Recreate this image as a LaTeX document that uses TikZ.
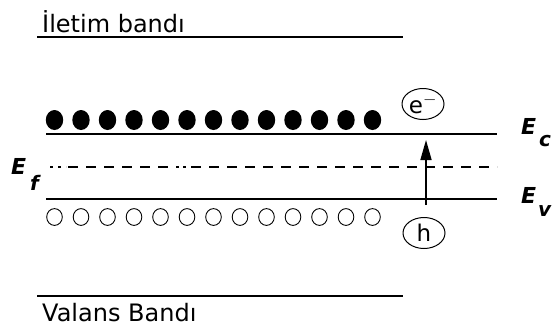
\documentclass[tikz,border=0pt]{standalone}
\usepackage{fontspec}
\setmainfont{DejaVu Sans}
\usetikzlibrary{arrows.meta,shapes.geometric}
\begin{document}
\begin{tikzpicture}[x=1pt,y=-1pt,
  level/.style={line width=1.6pt},
  fermi/.style={line width=1.4pt},
  bandtext/.style={anchor=base west,inner sep=0pt,font=\fontsize{24}{24}\selectfont},
  elabel/.style={anchor=base west,inner sep=0pt,font=\fontsize{22}{22}\selectfont\bfseries\itshape},
  esub/.style={anchor=base west,inner sep=0pt,font=\fontsize{20}{20}\selectfont\bfseries\itshape},
  electron/.style={fill=black,draw=none},
  hole/.style={draw=black,line width=0.9pt,fill=white},
  carrier/.style={ellipse,draw=black,line width=1pt,minimum width=42pt,minimum height=31pt,inner sep=0pt,font=\fontsize{23}{23}\selectfont}
]
\useasboundingbox (0,0) rectangle (553,327);
% conduction band
\node[bandtext] (tcb) at (42,32) {İletim bandı};
\coordinate (cb1) at (37,37); \coordinate (cb2) at (403,37);
\draw[level] (cb1) -- (cb2);
% valence band
\node[bandtext] (tvb) at (42,321) {Valans Bandı};
\coordinate (vb1) at (37,296); \coordinate (vb2) at (403,296);
\draw[level] (vb1) -- (vb2);
% levels
\coordinate (ec1) at (46,134); \coordinate (ec2) at (497,134);
\coordinate (ev1) at (46,199); \coordinate (ev2) at (497,199);
\draw[level] (ec1) -- (ec2);
\draw[level] (ev1) -- (ev2);
% Fermi level (dash-dot-like dashed line)
\coordinate (ef1) at (50,167); \coordinate (ef2) at (497,167);
\coordinate (efa) at (66,167); \coordinate (efb) at (68,167);
\coordinate (efc) at (170,167); \coordinate (efd) at (176,167);
\coordinate (efe) at (189,167); \coordinate (eff) at (191,167);
\draw[fermi,dash pattern=on 3pt off 5pt] (ef1) -- (efa);
\draw[fermi,dash pattern=on 10pt off 8pt] (efb) -- (efc);
\draw[fermi,dash pattern=on 3pt off 4pt] (efd) -- (efe);
\draw[fermi,dash pattern=on 10pt off 8pt] (eff) -- (ef2);
% electrons and holes
\foreach \i in {0,...,12}{
  \fill[electron] (54.5+26.5*\i,120) ellipse [x radius=8.7pt, y radius=10pt];
  \draw[hole] (54.5+26.5*\i,217) ellipse [x radius=7.8pt, y radius=8.4pt];
}
% carriers
\node[carrier] (e) at (423,104) {e$^{-}$};
\node[carrier] (h) at (424,233) {h};
\coordinate (a1) at (426,205); \coordinate (a2) at (426,140);
\draw[line width=1.6pt,-{Triangle[length=20pt,width=11pt]}] (a1) -- (a2);
% labels
\node[elabel] (Ec) at (521,134) {E};
\node[esub] (c) at (539,146) {c};
\node[elabel] (Ev) at (521,203) {E};
\node[esub] (v) at (538,216) {v};
\node[elabel] (Ef) at (11,174) {E};
\node[esub] (f) at (30,190) {f};
\end{tikzpicture}
\end{document}
